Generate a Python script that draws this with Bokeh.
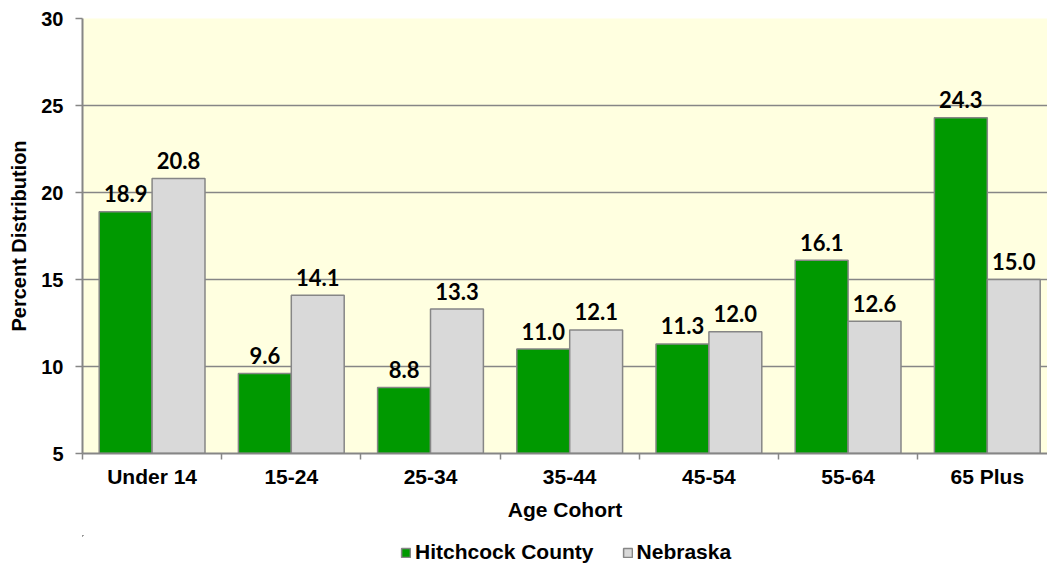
import numpy as np
from bokeh.plotting import figure
from bokeh.layouts import column
from bokeh.models import (ColumnDataSource, Range1d, FixedTicker, Legend, LegendItem)
from bokeh.core.properties import value
from bokeh.embed import file_html
from bokeh.resources import INLINE

categories = ["Under 14", "15-24", "25-34", "35-44", "45-54", "55-64", "65 Plus"]
hitchcock = [18.9, 9.6, 8.8, 11.0, 11.3, 16.1, 24.3]
nebraska = [20.8, 14.1, 13.3, 12.1, 12.0, 12.6, 15.0]
series_names = ["Hitchcock County", "Nebraska"]
y_ticks = [5, 10, 15, 20, 25, 30]

GREEN = "#009900"
GRAY = "#D9D9D9"
EDGE = "#868686"
AXIS_FONT = "Liberation Sans"

idx = np.arange(len(categories))
centers = idx + 0.5
bar_w = 0.38

src_h = ColumnDataSource(dict(x=centers - bar_w / 2, top=hitchcock,
                              lab=["%.1f" % v for v in hitchcock]))
src_n = ColumnDataSource(dict(x=centers + bar_w / 2, top=nebraska,
                              lab=["%.1f" % v for v in nebraska]))

p = figure(width=1047, height=535, output_backend="svg", toolbar_location=None,
           x_range=Range1d(0, 965 / 139.2), y_range=Range1d(5, 30),
           min_border_left=82, min_border_right=0, min_border_top=18,
           min_border_bottom=82)
p.background_fill_color = "#FFFFE0"
p.border_fill_color = "white"
p.outline_line_color = None

p.vbar(x="x", top="top", bottom=5, width=bar_w, source=src_h,
       fill_color=GREEN, line_color=EDGE, line_width=1.5)
p.vbar(x="x", top="top", bottom=5, width=bar_w, source=src_n,
       fill_color=GRAY, line_color=EDGE, line_width=1.5)

for src in (src_h, src_n):
    p.text(x="x", y="top", text="lab", source=src, text_align="center",
           text_baseline="alphabetic", y_offset=-18,
           text_font=value("Lato"), text_font_style="bold",
           text_font_size="22px", text_color="black")

# grid
p.xgrid.visible = False
p.ygrid.ticker = FixedTicker(ticks=y_ticks)
p.ygrid.grid_line_color = EDGE
p.ygrid.grid_line_width = 1.5

# x axis
xa = p.xaxis[0]
xa.ticker = FixedTicker(ticks=list(centers), minor_ticks=list(np.arange(len(categories) + 1)))
xa.major_label_overrides = {float(c): name for c, name in zip(centers, categories)}
xa.major_tick_out = 0
xa.major_tick_in = 0
xa.minor_tick_out = 6
xa.minor_tick_in = 0
xa.minor_tick_line_color = EDGE
xa.minor_tick_line_width = 1.5
xa.axis_line_color = EDGE
xa.axis_line_width = 2
xa.major_label_text_font = AXIS_FONT
xa.major_label_text_font_style = "bold"
xa.major_label_text_font_size = "21px"
xa.major_label_text_color = "black"
xa.major_label_standoff = 5
xa.axis_label = "Age Cohort"
xa.axis_label_text_font = AXIS_FONT
xa.axis_label_text_font_style = "bold"
xa.axis_label_text_font_size = "21px"
xa.axis_label_text_color = "black"
xa.axis_label_standoff = 7

# y axis
ya = p.yaxis[0]
ya.ticker = FixedTicker(ticks=y_ticks)
ya.major_tick_out = 7
ya.major_tick_in = 0
ya.minor_tick_line_color = None
ya.major_tick_line_color = EDGE
ya.major_tick_line_width = 1.5
ya.axis_line_color = EDGE
ya.axis_line_width = 2
ya.major_label_text_font = AXIS_FONT
ya.major_label_text_font_style = "bold"
ya.major_label_text_font_size = "20px"
ya.major_label_text_color = "black"
ya.major_label_standoff = 12
ya.axis_label = "Percent Distribution"
ya.axis_label_text_font = AXIS_FONT
ya.axis_label_text_font_style = "bold"
ya.axis_label_text_font_size = "20px"
ya.axis_label_text_color = "black"
ya.axis_label_standoff = 8

# legend strip below the chart (its ranges lie away from the data, so the
# proxy bars only lend their styling to the legend glyphs)
lg = figure(width=1047, height=32, output_backend="svg", toolbar_location=None,
            x_range=Range1d(100, 101), y_range=Range1d(-101, -100),
            x_axis_location=None, y_axis_location=None,
            min_border_left=82, min_border_right=0, min_border_top=0,
            min_border_bottom=0)
lg.outline_line_color = None
lg.grid.visible = False
lg.background_fill_color = "white"
lg.border_fill_color = "white"
d1 = lg.vbar(x="x", top="top", bottom=5, width=bar_w, source=src_h,
             fill_color=GREEN, line_color=EDGE, line_width=1.5)
d2 = lg.vbar(x="x", top="top", bottom=5, width=bar_w, source=src_n,
             fill_color=GRAY, line_color=EDGE, line_width=1.5)
legend = Legend(items=[LegendItem(label=series_names[0], renderers=[d1]),
                       LegendItem(label=series_names[1], renderers=[d2])],
                location=(318, 3), orientation="horizontal",
                glyph_width=11, glyph_height=11, label_standoff=4, spacing=28,
                padding=0, margin=0, border_line_color=None,
                background_fill_alpha=0,
                label_text_font=AXIS_FONT, label_text_font_style="bold",
                label_text_font_size="21px", label_text_color="black")
lg.add_layout(legend, "center")

layout = column(p, lg, spacing=0)
open("out.html", "w").write(file_html(layout, INLINE))
